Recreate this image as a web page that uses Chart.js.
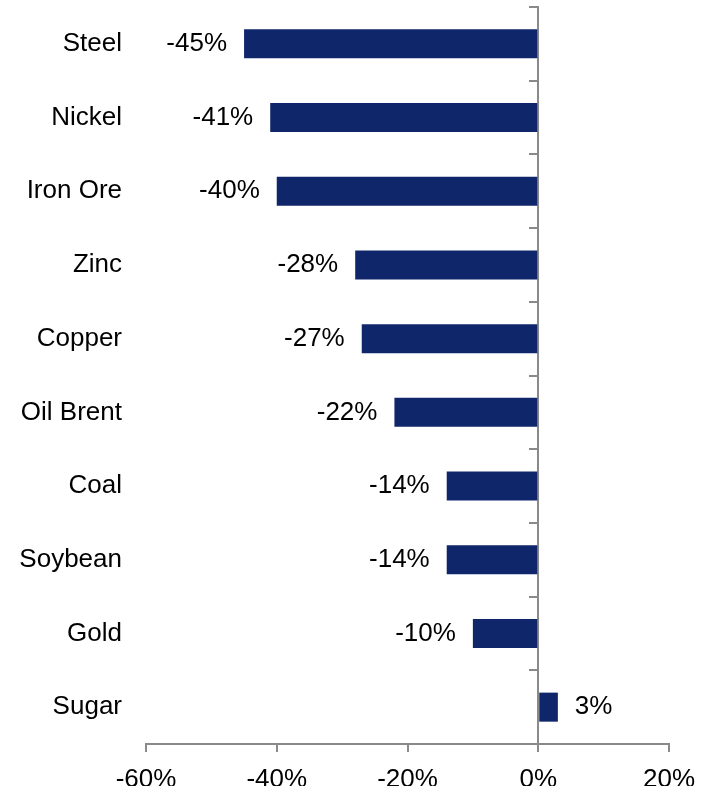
<!DOCTYPE html>
<html>
<head>
<meta charset="utf-8">
<script src="https://cdn.jsdelivr.net/npm/chart.js@4.4.1/dist/chart.umd.min.js"></script>
<style>
  html, body { margin: 0; padding: 0; background: #fff; }
  #wrap { width: 709px; height: 786px; }
</style>
</head>
<body>
<div id="wrap"><canvas id="commodities-chart"></canvas></div>
<script>
const categories = ['Steel', 'Nickel', 'Iron Ore', 'Zinc', 'Copper', 'Oil Brent', 'Coal', 'Soybean', 'Gold', 'Sugar'];
const changes = [-45, -41, -40, -28, -27, -22, -14, -14, -10, 3];
const xTicks = [-60, -40, -20, 0, 20];

const FONT = "'Liberation Sans', Arial, sans-serif";
const AXIS_GREY = '#8a8a8a';

// Percent labels next to the end of each bar
const barLabels = {
  id: 'barLabels',
  afterDatasetsDraw(chart) {
    const ctx = chart.ctx;
    const meta = chart.getDatasetMeta(0);
    ctx.save();
    ctx.font = `26px ${FONT}`;
    ctx.fillStyle = '#000';
    ctx.textBaseline = 'middle';
    meta.data.forEach((bar, i) => {
      const v = changes[i];
      if (v < 0) {
        ctx.textAlign = 'right';
        ctx.fillText(v + '%', bar.x - 17, bar.y);
      } else {
        ctx.textAlign = 'left';
        ctx.fillText(v + '%', bar.x + 17, bar.y);
      }
    });
    ctx.restore();
  }
};

// fixed width for the vertical axes, without the extra top/bottom label padding
const fitVertical = w => s => {
  s.width = w;
  s.paddingTop = 0;
  s.paddingBottom = 0;
};

new Chart(document.getElementById('commodities-chart'), {
  type: 'bar',
  data: {
    labels: categories,
    datasets: [{
      data: changes,
      backgroundColor: '#10266B',
      barPercentage: 0.394,
      categoryPercentage: 1,
      yAxisID: 'y'
    }]
  },
  options: {
    indexAxis: 'y',
    responsive: true,
    maintainAspectRatio: false,
    animation: false,
    layout: { padding: { top: 7, right: 40, bottom: 0, left: 0 } },
    plugins: {
      legend: { display: false },
      tooltip: { enabled: false }
    },
    scales: {
      x: {
        min: -60,
        max: 20,
        afterBuildTicks: s => { s.ticks = xTicks.map(v => ({ value: v })); },
        ticks: {
          callback: v => v + '%',
          color: '#000',
          font: { size: 26, family: FONT },
          padding: 12,
          maxRotation: 0
        },
        grid: { drawOnChartArea: false, drawTicks: true, tickLength: 8, color: AXIS_GREY, lineWidth: 2 },
        border: { color: AXIS_GREY, width: 2 },
        afterFit: s => { s.height = 42; }
      },
      y: {
        ticks: { color: '#000', font: { size: 26, family: FONT }, padding: 24 },
        grid: { display: false, drawTicks: false },
        border: { display: false },
        afterFit: fitVertical(146)
      },
      // vertical axis line sitting at 0%
      yZero: {
        axis: 'y',
        type: 'category',
        labels: categories,
        position: { x: 0 },
        offset: true,
        ticks: { display: false },
        grid: { drawOnChartArea: false, offset: true, tickLength: 8, color: AXIS_GREY, lineWidth: 2 },
        border: { color: AXIS_GREY, width: 2 },
        afterFit: fitVertical(0)
      }
    }
  },
  plugins: [barLabels]
});
</script>
</body>
</html>
